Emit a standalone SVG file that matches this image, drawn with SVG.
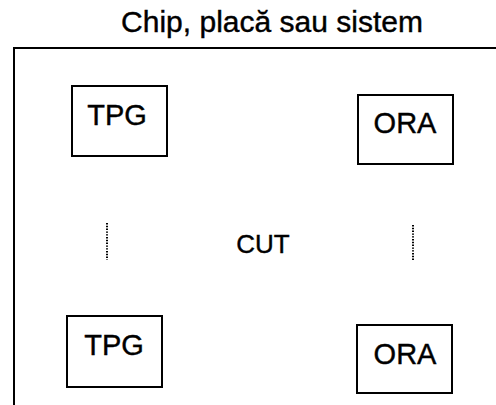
<svg xmlns="http://www.w3.org/2000/svg" width="496" height="405" viewBox="0 0 496 405">
<style>
.t{font-family:"Liberation Sans",Arial,sans-serif;fill:#000;stroke:#000;stroke-width:0.4;text-anchor:middle}
.box{fill:none;stroke:#000;stroke-width:2}
.dot{stroke:#000;stroke-width:2;stroke-dasharray:1.4 1.4;fill:none}
</style>
<rect width="496" height="405" fill="#fff"/>
<g id="system">
<path d="M14,410 V48 H500" fill="none" stroke="#000" stroke-width="2"/>
<text class="t" x="272" y="32" font-size="30">Chip, placă sau sistem</text>
</g>
<g id="tpg1">
<rect class="box" x="72" y="86" width="95" height="70"/>
<text class="t" x="117" y="125" font-size="29">TPG</text>
</g>
<g id="ora1">
<rect class="box" x="358" y="95" width="95" height="69"/>
<text class="t" x="405" y="133" font-size="29">ORA</text>
</g>
<g id="cut">
<text class="t" x="263" y="253" font-size="26">CUT</text>
</g>
<g id="tpg2">
<rect class="box" x="67" y="316" width="95" height="71"/>
<text class="t" x="114" y="355" font-size="29">TPG</text>
</g>
<g id="ora2">
<rect class="box" x="357" y="325" width="95" height="68"/>
<text class="t" x="405" y="364" font-size="29">ORA</text>
</g>
<g id="connectors">
<line class="dot" x1="107" y1="223" x2="107" y2="260"/>
<line class="dot" x1="413" y1="225" x2="413" y2="261"/>
</g>
</svg>
